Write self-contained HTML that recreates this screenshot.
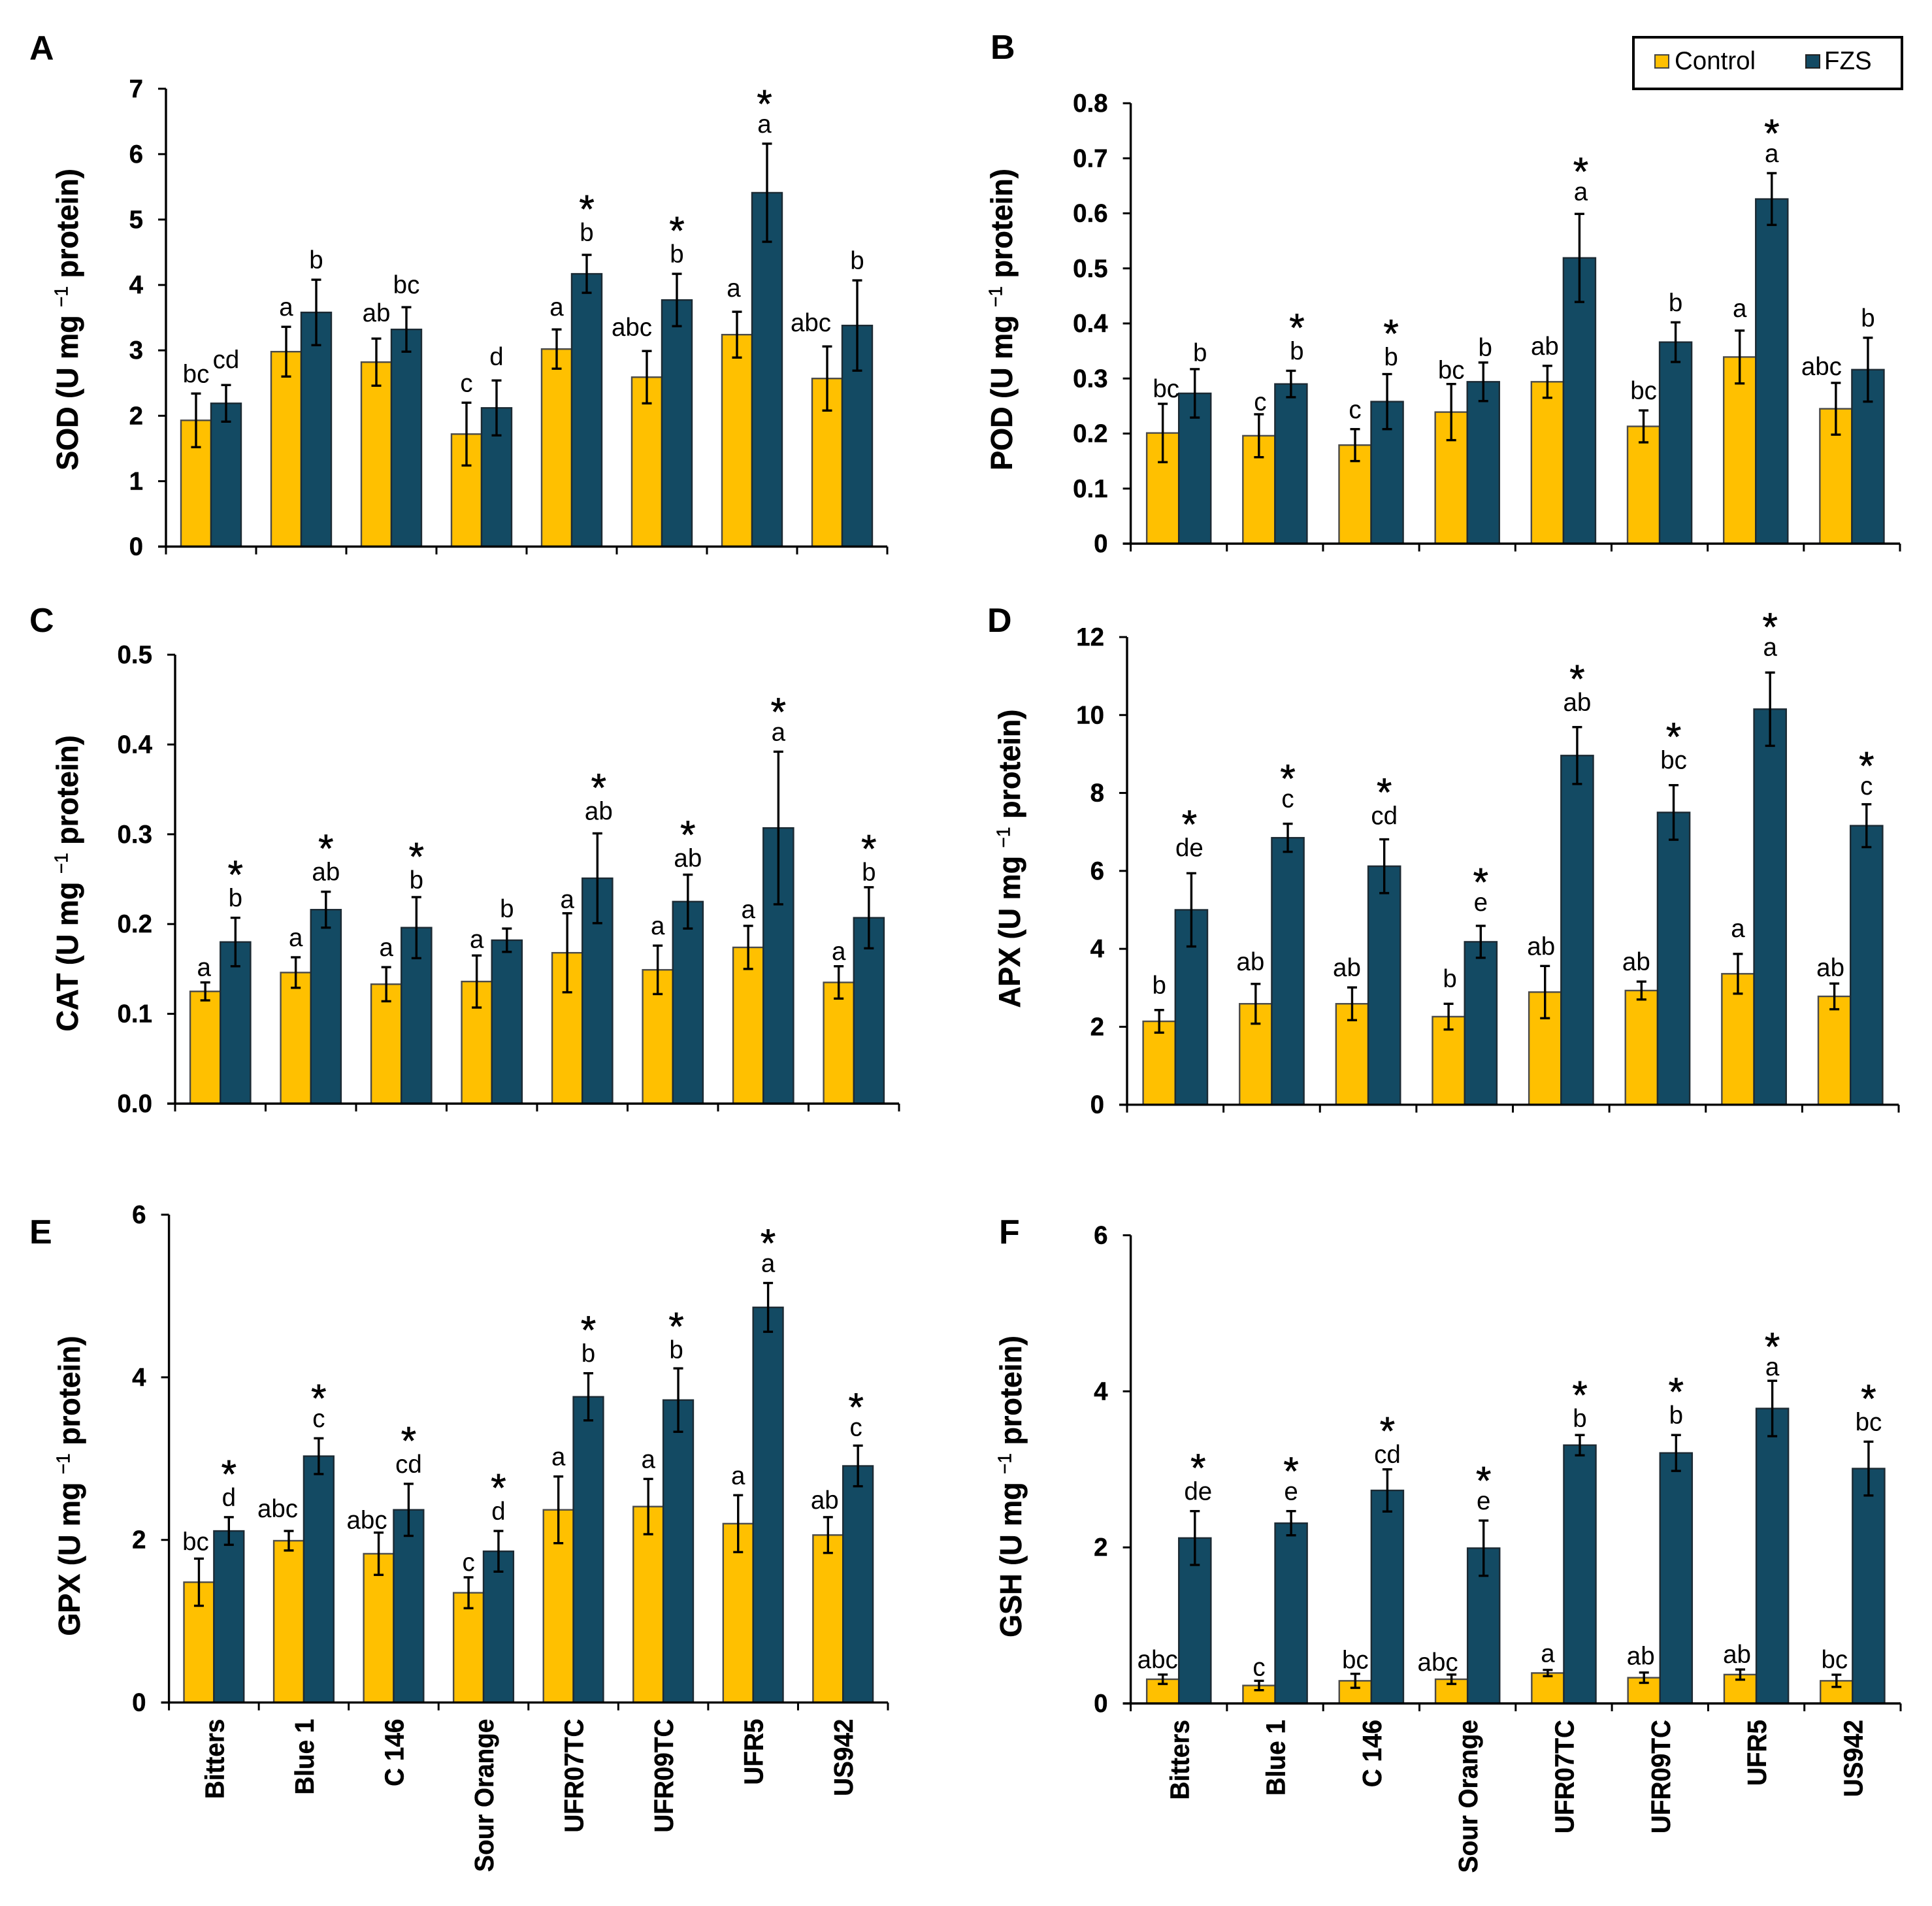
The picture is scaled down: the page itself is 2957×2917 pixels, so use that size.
<!DOCTYPE html>
<html lang="en">
<head>
<meta charset="utf-8">
<title>Antioxidant enzyme activity by rootstock</title>
<style>
html,body{margin:0;padding:0;background:#fff;}
svg{display:block;font-family:"Liberation Sans",Arial,sans-serif;}
.letter{font-size:52px;font-weight:700;fill:#000;}
.ytitle{font-size:45px;font-weight:700;fill:#000;stroke:#000;stroke-width:.5px;}
.sup{font-size:28px;font-weight:400;}
.tick{font-size:38.5px;font-weight:700;fill:#000;stroke:#000;stroke-width:.4px;}
.xlab{font-size:38.7px;font-weight:700;fill:#000;stroke:#000;stroke-width:.4px;}
.sig{font-size:38.5px;fill:#000;}
.star{font-size:60px;fill:#000;stroke:#000;stroke-width:.7px;}
.leg{font-size:38.5px;fill:#000;}
</style>
</head>
<body>
<svg id="figure" xmlns="http://www.w3.org/2000/svg" width="2957" height="2917" viewBox="0 0 2957 2917">
  <rect x="0" y="0" width="2957" height="2917" fill="#fff"/>

  <text class="letter" x="45" y="91">A</text>
  <text class="letter" x="1516" y="90">B</text>
  <text class="letter" x="45" y="967">C</text>
  <text class="letter" x="1511" y="967">D</text>
  <text class="letter" x="45" y="1903">E</text>
  <text class="letter" x="1529" y="1903">F</text>

  <text class="ytitle" text-anchor="middle" transform="translate(119 489) rotate(-90) scale(1 1.04)">SOD (U mg <tspan class="sup" dy="-15">−1</tspan><tspan dy="15"> protein)</tspan></text>
  <text class="ytitle" text-anchor="middle" transform="translate(1549 489) rotate(-90) scale(1 1.04)">POD (U mg <tspan class="sup" dy="-15">−1</tspan><tspan dy="15"> protein)</tspan></text>
  <text class="ytitle" text-anchor="middle" transform="translate(119 1352) rotate(-90) scale(1 1.04)">CAT (U mg <tspan class="sup" dy="-15">−1</tspan><tspan dy="15"> protein)</tspan></text>
  <text class="ytitle" text-anchor="middle" transform="translate(1561 1314) rotate(-90) scale(1 1.04)">APX (U mg <tspan class="sup" dy="-15">−1</tspan><tspan dy="15"> protein)</tspan></text>
  <text class="ytitle" text-anchor="middle" transform="translate(122 2274) rotate(-90) scale(1 1.04)">GPX (U mg <tspan class="sup" dy="-15">−1</tspan><tspan dy="15"> protein)</tspan></text>
  <text class="ytitle" text-anchor="middle" transform="translate(1563 2275) rotate(-90) scale(1 1.04)">GSH (U mg <tspan class="sup" dy="-15">−1</tspan><tspan dy="15"> protein)</tspan></text>

  <g>
    <rect x="2500" y="57" width="411" height="79" fill="#fff" stroke="#000" stroke-width="4"/>
    <rect x="2533" y="84" width="21" height="20" fill="#FFC000" stroke="#444" stroke-width="2"/>
    <text class="leg" x="2563" y="106">Control</text>
    <rect x="2764" y="84" width="21" height="20" fill="#134A63" stroke="#222" stroke-width="2"/>
    <text class="leg" x="2792" y="106">FZS</text>
  </g>
</svg>

<script>
const categories = ["Bitters", "Blue 1", "C 146", "Sour Orange", "UFR07TC", "UFR09TC", "UFR5", "US942"];

const sodTicks = ["0", "1", "2", "3", "4", "5", "6", "7"];
const sodControl = [1.93, 2.98, 2.82, 1.72, 3.02, 2.59, 3.24, 2.57];
const sodFzs = [2.19, 3.58, 3.32, 2.12, 4.17, 3.77, 5.41, 3.38];
const sodControlErr = [0.41, 0.38, 0.36, 0.48, 0.30, 0.40, 0.35, 0.49];
const sodFzsErr = [0.28, 0.50, 0.34, 0.42, 0.29, 0.40, 0.75, 0.69];
const sodControlSig = ["bc", "a", "ab", "c", "a", "abc", "a", "abc"];
const sodFzsSig = ["cd", "b", "bc", "d", "b", "b", "a", "b"];
const sodStars = [0, 0, 0, 0, 1, 1, 1, 0];

const podTicks = ["0", "0.1", "0.2", "0.3", "0.4", "0.5", "0.6", "0.7", "0.8"];
const podControl = [0.201, 0.196, 0.179, 0.239, 0.294, 0.213, 0.339, 0.245];
const podFzs = [0.273, 0.290, 0.258, 0.294, 0.519, 0.366, 0.626, 0.316];
const podControlErr = [0.053, 0.039, 0.029, 0.051, 0.029, 0.029, 0.048, 0.047];
const podFzsErr = [0.044, 0.024, 0.050, 0.035, 0.080, 0.036, 0.047, 0.058];
const podControlSig = ["bc", "c", "c", "bc", "ab", "bc", "a", "abc"];
const podFzsSig = ["b", "b", "b", "b", "a", "b", "a", "b"];
const podStars = [0, 1, 1, 0, 1, 0, 1, 0];

const catTicks = ["0.0", "0.1", "0.2", "0.3", "0.4", "0.5"];
const catControl = [0.125, 0.146, 0.133, 0.136, 0.168, 0.149, 0.174, 0.135];
const catFzs = [0.180, 0.216, 0.196, 0.182, 0.251, 0.225, 0.307, 0.207];
const catControlErr = [0.010, 0.017, 0.019, 0.029, 0.044, 0.027, 0.024, 0.018];
const catFzsErr = [0.027, 0.020, 0.034, 0.013, 0.050, 0.030, 0.085, 0.034];
const catControlSig = ["a", "a", "a", "a", "a", "a", "a", "a"];
const catFzsSig = ["b", "ab", "b", "b", "ab", "ab", "a", "b"];
const catStars = [1, 1, 1, 0, 1, 1, 1, 1];

const apxTicks = ["0", "2", "4", "6", "8", "10", "12"];
const apxControl = [2.14, 2.59, 2.59, 2.26, 2.89, 2.93, 3.36, 2.78];
const apxFzs = [5.00, 6.85, 6.12, 4.18, 8.96, 7.50, 10.15, 7.16];
const apxControlErr = [0.29, 0.51, 0.42, 0.33, 0.67, 0.23, 0.51, 0.33];
const apxFzsErr = [0.94, 0.36, 0.69, 0.41, 0.73, 0.70, 0.94, 0.55];
const apxControlSig = ["b", "ab", "ab", "b", "ab", "ab", "a", "ab"];
const apxFzsSig = ["de", "c", "cd", "e", "ab", "bc", "a", "c"];
const apxStars = [1, 1, 1, 1, 1, 1, 1, 1];

const gpxTicks = ["0", "2", "4", "6"];
const gpxControl = [1.48, 1.99, 1.83, 1.35, 2.37, 2.41, 2.20, 2.06];
const gpxFzs = [2.11, 3.03, 2.37, 1.86, 3.76, 3.72, 4.86, 2.91];
const gpxControlErr = [0.29, 0.12, 0.26, 0.19, 0.41, 0.34, 0.35, 0.22];
const gpxFzsErr = [0.17, 0.22, 0.32, 0.25, 0.29, 0.39, 0.30, 0.25];
const gpxControlSig = ["bc", "abc", "abc", "c", "a", "a", "a", "ab"];
const gpxFzsSig = ["d", "c", "cd", "d", "b", "b", "a", "c"];
const gpxStars = [1, 1, 1, 1, 1, 1, 1, 1];

const gshTicks = ["0", "2", "4", "6"];
const gshControl = [0.31, 0.23, 0.29, 0.31, 0.39, 0.33, 0.37, 0.29];
const gshFzs = [2.12, 2.31, 2.73, 1.99, 3.31, 3.21, 3.78, 3.01];
const gshControlErr = [0.06, 0.06, 0.09, 0.06, 0.04, 0.066, 0.065, 0.078];
const gshFzsErr = [0.345, 0.155, 0.27, 0.354, 0.13, 0.23, 0.355, 0.345];
const gshControlSig = ["abc", "c", "bc", "abc", "a", "ab", "ab", "bc"];
const gshFzsSig = ["de", "e", "cd", "e", "b", "b", "a", "bc"];
const gshStars = [1, 1, 1, 1, 1, 1, 1, 1];

/* hand-placement offsets of the significance letters relative to their error bar, as in the source figure */
const letterShift = {
  "sod-control-2": [0, -9], "sod-control-4": [0, -4], "sod-control-5": [-23, -6], "sod-control-6": [-5, -6], "sod-control-7": [-25, -6],
  "sod-fzs-0": [0, -9], "sod-fzs-2": [0, -4], "sod-fzs-3": [0, -6], "sod-fzs-4": [0, -4], "sod-fzs-6": [-4, 0],
  "pod-control-0": [5, 7], "pod-control-1": [2, 11], "pod-control-3": [0, 9], "pod-control-4": [-4, 0], "pod-control-6": [0, -4], "pod-control-7": [-22, 5],
  "pod-fzs-0": [8, 5], "pod-fzs-1": [9, 0], "pod-fzs-2": [6, 4], "pod-fzs-3": [3, 7], "pod-fzs-4": [2, -4],
  "cat-control-0": [-2, 7], "cat-control-3": [0, 5], "cat-control-4": [0, 9], "cat-control-6": [0, 5], "cat-control-7": [0, 7],
  "cat-fzs-2": [0, 4], "cat-fzs-4": [2, -4], "cat-fzs-5": [0, 5], "cat-fzs-7": [0, 7],
  "apx-control-0": [0, -8], "apx-control-1": [-8, -4], "apx-control-2": [-8, 0], "apx-control-3": [2, -8], "apx-control-4": [-6, 0], "apx-control-5": [-8, 0], "apx-control-6": [0, -9], "apx-control-7": [-6, 6],
  "apx-fzs-0": [-3, -9], "apx-fzs-1": [0, -8], "apx-fzs-2": [0, -6], "apx-fzs-3": [0, -6], "apx-fzs-4": [0, -8], "apx-fzs-5": [0, -8], "apx-fzs-6": [0, -9], "apx-fzs-7": [0, 2],
  "gpx-control-0": [-5, 4], "gpx-control-1": [-17, -4], "gpx-control-2": [-18, 11], "gpx-control-3": [0, 7], "gpx-control-7": [-5, 4],
  "gpx-fzs-5": [-3, 2], "gpx-fzs-7": [-3, 2],
  "gsh-control-0": [-8, 7], "gsh-control-1": [0, 9], "gsh-control-2": [0, 9], "gsh-control-3": [-21, 11], "gsh-control-4": [0, 5], "gsh-control-5": [-5, 5], "gsh-control-6": [-5, 7], "gsh-control-7": [-3, 7],
  "gsh-fzs-0": [5, 0], "gsh-fzs-2": [0, 7], "gsh-fzs-4": [0, 5], "gsh-fzs-6": [0, 9]
};

const NS = "http://www.w3.org/2000/svg";
const figure = document.getElementById("figure");

function el(tag, parent, attrs) {
  const node = document.createElementNS(NS, tag);
  for (const k in attrs) node.setAttribute(k, attrs[k]);
  parent.appendChild(node);
  return node;
}

function drawError(g, cx, topY, botY, label) {
  const stem = el("line", g, {x1: cx, x2: cx, y1: topY, y2: botY, stroke: "#000", "stroke-width": 3.4});
  
  
  const capTop = el("line", g, {x1: cx - 7.5, x2: cx + 7.5, y1: topY, y2: topY, stroke: "#000", "stroke-width": 3.4});
  
  
  const capBot = el("line", g, {x1: cx - 7.5, x2: cx + 7.5, y1: botY, y2: botY, stroke: "#000", "stroke-width": 3.4});
  
  
}

function drawPanel(id, box, ticks, control, fzs, controlErr, fzsErr, controlSig, fzsSig, stars, showX) {
  const g = el("g", figure, {});
  
  

  const yMax = parseFloat(ticks[ticks.length - 1]);
  const yScale = v => box.bottom - (v / yMax) * (box.bottom - box.top);
  const groupW = (box.right - box.left) / categories.length;
  const barW = groupW / 3;
  const xStart = i => box.left + i * groupW + groupW / 6;

  const series = [
    {key: "control", values: control, errs: controlErr, sig: controlSig, fill: "#FFC000", stroke: "#4a4a4a"},
    {key: "fzs", values: fzs, errs: fzsErr, sig: fzsSig, fill: "#134A63", stroke: "#1c2a33"}
  ];

  series.forEach((s, si) => {
    s.values.forEach((v, i) => {
      const x = xStart(i) + si * barW;
      const y = yScale(v);
      const bar = el("rect", g, {x: x, y: y, width: barW, height: box.bottom - y, fill: s.fill, stroke: s.stroke, "stroke-width": 2.4});
      
      
    });
  });

  series.forEach((s, si) => {
    s.values.forEach((v, i) => {
      const cx = xStart(i) + si * barW + barW / 2;
      const topY = yScale(v + s.errs[i]);
      const botY = yScale(v - s.errs[i]);
      drawError(g, cx, topY, botY, id + '-error-' + s.key + '-' + i);

      const shift = letterShift[id + '-' + s.key + '-' + i] || [0, 0];
      const base = topY - 17 + shift[1];
      const sig = el("text", g, {x: cx + shift[0], y: base, "text-anchor": "middle", class: "sig"});
      sig.textContent = s.sig[i];
      
      

      if (si === 1 && stars[i]) {
        const gap = /[bd]/.test(s.sig[i]) ? 28.5 : 23.5;
        const star = el("text", g, {x: cx + shift[0], y: base - gap, "text-anchor": "middle", class: "star"});
        star.textContent = "*";
        
        
      }
    });
  });

  const yAxis = el("line", g, {x1: box.left, x2: box.left, y1: box.top, y2: box.bottom, stroke: "#000", "stroke-width": 3.4});
  
  
  const xAxis = el("line", g, {x1: box.left - 12, x2: box.right, y1: box.bottom, y2: box.bottom, stroke: "#000", "stroke-width": 3.4});
  
  

  ticks.forEach(label => {
    const y = yScale(parseFloat(label));
    const tick = el("line", g, {x1: box.left - 12, x2: box.left, y1: y, y2: y, stroke: "#000", "stroke-width": 3});
    
    
    const txt = el("text", g, {x: box.left - 35, y: y + 13, "text-anchor": "end", class: "tick"});
    txt.textContent = label;
    
    
  });

  for (let i = 0; i <= categories.length; i++) {
    const x = box.left + i * groupW;
    const tick = el("line", g, {x1: x, x2: x, y1: box.bottom, y2: box.bottom + 12, stroke: "#000", "stroke-width": 3});
    
    
  }

  if (showX) {
    categories.forEach((c, i) => {
      const cx = box.left + (i + 0.5) * groupW + 15;
      const y = box.bottom + 25;
      const txt = el("text", g, {"text-anchor": "end", class: "xlab", transform: "translate(" + cx + " " + y + ") rotate(-90) scale(1 1.05)"});
      txt.textContent = c;
      
      
    });
  }
}

drawPanel("sod", {left: 254, right: 1358, top: 135.8, bottom: 836.5}, sodTicks, sodControl, sodFzs, sodControlErr, sodFzsErr, sodControlSig, sodFzsSig, sodStars, false);
drawPanel("pod", {left: 1730.6, right: 2908, top: 158, bottom: 832}, podTicks, podControl, podFzs, podControlErr, podFzsErr, podControlSig, podFzsSig, podStars, false);
drawPanel("cat", {left: 268, right: 1376, top: 1002, bottom: 1689}, catTicks, catControl, catFzs, catControlErr, catFzsErr, catControlSig, catFzsSig, catStars, false);
drawPanel("apx", {left: 1725, right: 2906, top: 975, bottom: 1690.7}, apxTicks, apxControl, apxFzs, apxControlErr, apxFzsErr, apxControlSig, apxFzsSig, apxStars, false);
drawPanel("gpx", {left: 258.6, right: 1359, top: 1859, bottom: 2605.6}, gpxTicks, gpxControl, gpxFzs, gpxControlErr, gpxFzsErr, gpxControlSig, gpxFzsSig, gpxStars, true);
drawPanel("gsh", {left: 1730.6, right: 2909, top: 1890.5, bottom: 2607}, gshTicks, gshControl, gshFzs, gshControlErr, gshFzsErr, gshControlSig, gshFzsSig, gshStars, true);
</script>
</body>
</html>
